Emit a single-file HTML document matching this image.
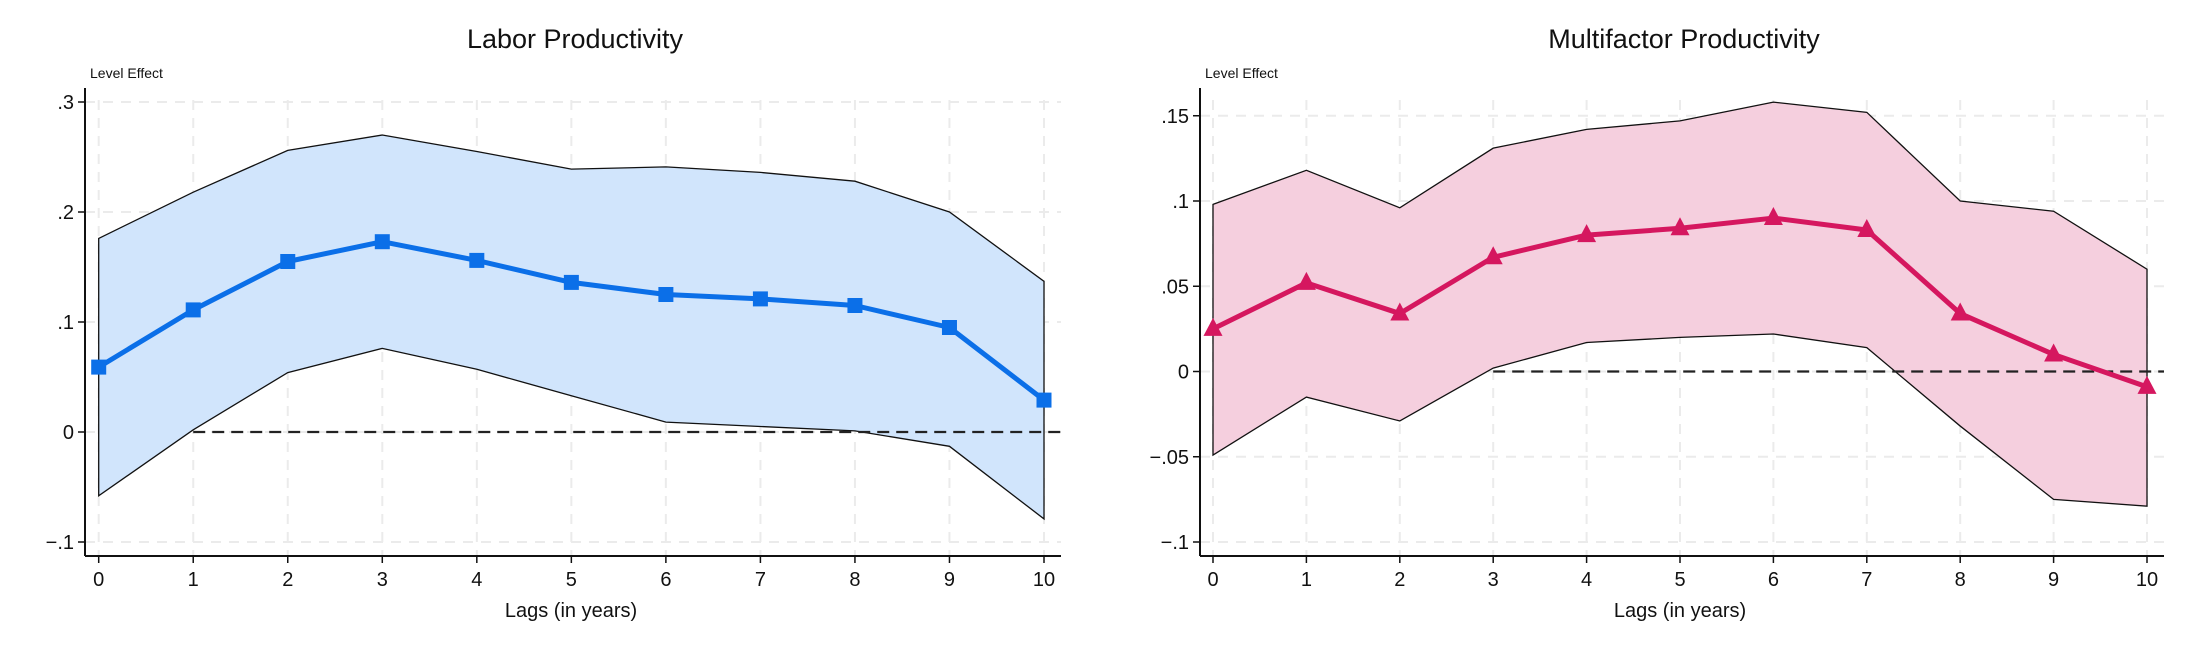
<!DOCTYPE html>
<html><head><meta charset="utf-8"><style>
html,body{margin:0;padding:0;background:#fff;}
svg{display:block;font-family:"Liberation Sans",sans-serif;}
</style></head><body>
<svg id="c" width="2204" height="650" viewBox="0 0 2204 650"></svg>
<script>
const lags=[0,1,2,3,4,5,6,7,8,9,10];
const laborEst=[0.059,0.111,0.155,0.173,0.156,0.136,0.125,0.121,0.115,0.095,0.029];
const laborUpper=[0.176,0.218,0.256,0.270,0.255,0.239,0.241,0.236,0.228,0.200,0.137];
const laborLower=[-0.058,0.002,0.054,0.076,0.057,0.033,0.009,0.005,0.001,-0.013,-0.079];
const laborTicks=[-0.1,0,0.1,0.2,0.3];
const laborTickLabels=["\u2212.1","0",".1",".2",".3"];
const mfpEst=[0.025,0.052,0.034,0.067,0.080,0.084,0.090,0.083,0.034,0.010,-0.009];
const mfpUpper=[0.098,0.118,0.096,0.131,0.142,0.147,0.158,0.152,0.100,0.094,0.060];
const mfpLower=[-0.049,-0.015,-0.029,0.002,0.017,0.020,0.022,0.014,-0.032,-0.075,-0.079];
const mfpTicks=[-0.1,-0.05,0,0.05,0.1,0.15];
const mfpTickLabels=["\u2212.1","\u2212.05","0",".05",".1",".15"];

const svg=document.getElementById('c');
const NS='http://www.w3.org/2000/svg';
function mk(tag,attrs,parent,text){const e=document.createElementNS(NS,tag);for(const k in attrs)e.setAttribute(k,attrs[k]);if(text!==undefined)e.textContent=text;(parent||svg).appendChild(e);return e;}

function panel(cfg){
  const g=mk('g',{});
  
  
  const x=v=>cfg.x0+(v-lags[0])*(cfg.x10-cfg.x0)/(lags[lags.length-1]-lags[0]);
  const y=v=>cfg.yZero-v*cfg.yPerUnit;
  cfg.ticks.forEach(t=>{const l=mk('line',{x1:cfg.axX,x2:cfg.right,y1:y(t),y2:y(t),stroke:'#ebebeb','stroke-width':2,'stroke-dasharray':'10 8'},g);
    });
  lags.forEach(v=>{const l=mk('line',{x1:x(v),x2:x(v),y1:cfg.top+12,y2:cfg.bottom,stroke:'#ebebeb','stroke-width':2,'stroke-dasharray':'10 8'},g);
    });
  let pts=lags.map((v,i)=>x(v)+','+y(cfg.upper[i]));
  pts=pts.concat(lags.slice().reverse().map((v,j)=>{const i=lags.length-1-j;return x(v)+','+y(cfg.lower[i]);}));
  const band=mk('polygon',{points:pts.join(' '),fill:cfg.fill,stroke:'#111','stroke-width':1.3},g);
  
  const z=mk('line',{x1:x(cfg.zeroFrom),x2:cfg.right,y1:y(0),y2:y(0),stroke:'#222','stroke-width':2.2,'stroke-dasharray':'12 7'},g);
  
  const ln=mk('polyline',{points:lags.map((v,i)=>x(v)+','+y(cfg.est[i])).join(' '),fill:'none',stroke:cfg.color,'stroke-width':5,'stroke-linejoin':'round'},g);
  
  lags.forEach((v,i)=>{const cx=x(v),cy=y(cfg.est[i]);let m;
    if(cfg.marker==='square'){m=mk('rect',{x:cx-7.5,y:cy-7.5,width:15,height:15,fill:cfg.color},g);}
    else{m=mk('polygon',{points:`${cx},${cy-11} ${cx+9.5},${cy+7} ${cx-9.5},${cy+7}`,fill:cfg.color},g);}
    });
  const ya=mk('line',{x1:cfg.axX,x2:cfg.axX,y1:cfg.top,y2:cfg.bottom,stroke:'#111','stroke-width':2},g);
  
  const xa=mk('line',{x1:cfg.axX,x2:cfg.right,y1:cfg.bottom,y2:cfg.bottom,stroke:'#111','stroke-width':2},g);
  
  cfg.ticks.forEach((t,i)=>{mk('line',{x1:cfg.axX-7,x2:cfg.axX,y1:y(t),y2:y(t),stroke:'#111','stroke-width':1.5},g);
    const tx=mk('text',{x:cfg.axX-11,y:y(t)+7,'text-anchor':'end','font-size':20,fill:'#111'},g,cfg.tickLabels[i]);
    });
  lags.forEach(v=>{mk('line',{x1:x(v),x2:x(v),y1:cfg.bottom,y2:cfg.bottom+7,stroke:'#111','stroke-width':1.5},g);
    const tx=mk('text',{x:x(v),y:cfg.bottom+30,'text-anchor':'middle','font-size':20,fill:'#111'},g,String(v));
    });
  const t=mk('text',{x:cfg.titleX,y:48,'text-anchor':'middle','font-size':27,fill:'#111'},g,cfg.title);
  
  const yt=mk('text',{x:cfg.axX+5,y:78,'font-size':14,fill:'#111'},g,'Level Effect');
  
  const xt=mk('text',{x:cfg.titleX-4,y:617,'text-anchor':'middle','font-size':20,fill:'#111'},g,'Lags (in years)');
  
}
panel({name:'labor-productivity-panel',title:'Labor Productivity',titleX:575,axX:85,right:1061,top:88,bottom:556,
  x0:98.7,x10:1044,yZero:432,yPerUnit:1100,ticks:laborTicks,tickLabels:laborTickLabels,
  est:laborEst,upper:laborUpper,lower:laborLower,fill:'#d1e5fc',color:'#0b6fe8',marker:'square',zeroFrom:1});
panel({name:'multifactor-productivity-panel',title:'Multifactor Productivity',titleX:1684,axX:1200,right:2164,top:88,bottom:556,
  x0:1213,x10:2147,yZero:371.5,yPerUnit:1705,ticks:mfpTicks,tickLabels:mfpTickLabels,
  est:mfpEst,upper:mfpUpper,lower:mfpLower,fill:'#f5cfde',color:'#d5175f',marker:'triangle',zeroFrom:3});
</script>
</body></html>
